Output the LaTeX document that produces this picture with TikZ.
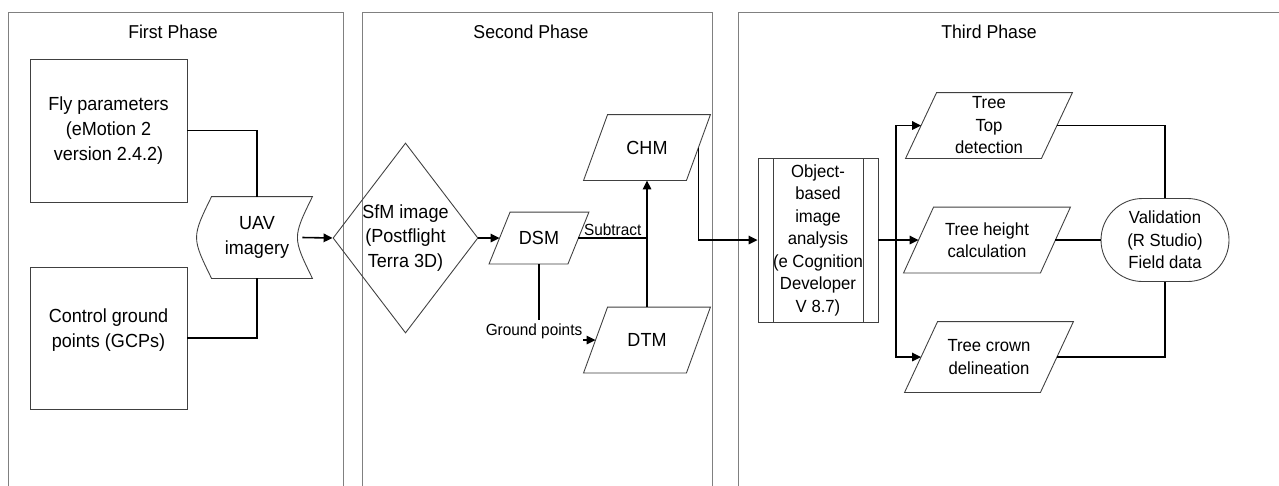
\documentclass[tikz,border=0pt]{standalone}
\usepackage{fontspec}
\setmainfont[FakeStretch=0.95]{Liberation Sans}
\usetikzlibrary{shapes.geometric,shapes.misc,arrows.meta}

\tikzset{
	phase/.style={draw=black!50, line width=0.5pt},
	title/.style={font=\fontsize{10.6}{12}\selectfont},
	outline/.style={draw=black!75, line width=0.5pt},
	box/.style={outline, align=center, inner sep=0pt,
		font=\fontsize{10.8}{14}\selectfont},
	box3/.style={box, font=\fontsize{10}{12.8}\selectfont},
	para/.style={box, draw=none},
	para3/.style={box3, draw=none},
	lbl/.style={font=\fontsize{9.2}{11}\selectfont},
	link/.style={line width=0.9pt},
	arr/.style={link, -{Triangle[length=1.8mm,width=1.7mm]}}
}

\begin{document}
\begin{tikzpicture}[x=0.2mm, y=-0.2mm]
	\useasboundingbox[fill=white] (0,0) rectangle (1279,485);

	% the three phases
	\begin{scope}
		\clip (0,0) rectangle (1279,485);
		\draw[phase] (8,12) rectangle (343,520);
		\draw[phase] (362,12) rectangle (712,520);
		\draw[phase] (738,12) rectangle (1300,520);
	\end{scope}
	\node[title] (p1) at (173,32) {First Phase};
	\node[title] (p2) at (531,32) {Second Phase};
	\node[title] (p3) at (989,32) {Third Phase};

	% first phase
	\node[box, minimum width=31.4mm, minimum height=28.6mm] (fly) at (108.5,130.5)
		{Fly parameters\\(eMotion 2\\version 2.4.2)};
	\node[box, minimum width=31.4mm, minimum height=28.4mm, text depth=11pt] (gcp) at (108.5,338)
		{Control ground\\points (GCPs)};
	\node[box, draw=none, minimum width=22mm, minimum height=16.2mm] (uav) at (257,237.5)
		{UAV\\imagery};
	\draw[outline] ([xshift=2mm]uav.north west) -- (uav.north east)
		.. controls ([xshift=-4mm]uav.east) .. (uav.south east)
		-- ([xshift=2mm]uav.south west)
		.. controls ([xshift=-2mm]uav.west) .. ([xshift=2mm]uav.north west) -- cycle;

	\draw[link] (fly.east) -| (uav.north);
	\draw[link] (gcp.east) -| (uav.south);

	% second phase
	\node[box, diamond, aspect=0.76, minimum width=29mm, minimum height=38mm] (sfm) at (405.5,238)
		{SfM image\\(Postflight\\Terra 3D)};
	\node[para, minimum width=15.6mm, minimum height=10.2mm] (dsm) at (539,238) {DSM};
	\node[para, minimum width=20.4mm, minimum height=13mm] (chm) at (647,147.5) {CHM};
	\node[para, minimum width=20.4mm, minimum height=13mm] (dtm) at (647,340) {DTM};

	% third phase
	\node[box3, minimum width=24mm, minimum height=32.8mm,
		path picture={
			\draw[black!75] ([xshift=3mm]path picture bounding box.north west)
				-- ([xshift=3mm]path picture bounding box.south west);
			\draw[black!75] ([xshift=-3mm]path picture bounding box.north east)
				-- ([xshift=-3mm]path picture bounding box.south east);
		}] (obj) at (818,240)
		{Object-\\based\\image\\analysis\\(e Cognition\\Developer\\V 8.7)};
	\coordinate (br) at (896,240);
	\node[para3, minimum width=27mm, minimum height=13mm] (top) at (989,125.5)
		{Tree\\Top\\detection};
	\node[para3, minimum width=27.2mm, minimum height=13mm] (hgt) at (987,240)
		{Tree height\\calculation};
	\node[para3, minimum width=27mm, minimum height=14mm] (crown) at (989,357)
		{Tree crown\\delineation};
	\node[box3, rounded rectangle, minimum width=25.6mm, minimum height=16.6mm] (val) at (1165,240)
		{Validation\\(R Studio)\\Field data};

	% slanted data boxes
	\foreach \n/\d in {dsm/2.1mm, chm/2.4mm, dtm/2.4mm, top/3.1mm, hgt/3mm, crown/3.3mm}
		\draw[outline] ([xshift=\d]\n.north west) -- ([xshift=\d]\n.north east)
			-- ([xshift=-\d]\n.south east) -- ([xshift=-\d]\n.south west) -- cycle;

	% connectors
	\draw[arr] ([xshift=-2mm]uav.east) -- (sfm.west);
	\draw[arr] (sfm.east) -- (dsm.west);
	\draw[link] (dsm.east) -- (dsm.east -| chm.south)
		node[midway, above, lbl, inner sep=1pt] {Subtract};
	\draw[arr] (dtm.north) -- (chm.south);
	\draw[arr] (dsm.south) |- (dtm.west)
		node[pos=0.5, lbl, fill=white, inner xsep=0.5pt, inner ysep=2pt,
			xshift=-1mm, yshift=1.8mm] {Ground points};

	\draw[arr] (chm.east) |- (obj.west);
	\draw[link] (obj.east) -- (br);
	\draw[arr] (br) -- (hgt.west);
	\draw[arr] (br) |- (top.west);
	\draw[arr] (br) |- (crown.west);
	\draw[link] (top.east) -| (val.north);
	\draw[link] (hgt.east) -- (val.west);
	\draw[link] (crown.east) -| (val.south);
\end{tikzpicture}
\end{document}
